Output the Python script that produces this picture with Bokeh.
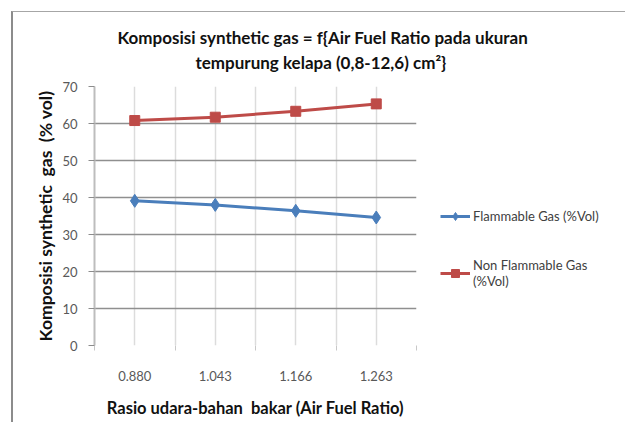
from bokeh.plotting import figure
from bokeh.models import (Range1d, FixedTicker, Legend, LegendItem, Title,
                          ColumnDataSource)
from bokeh.embed import file_html
from bokeh.resources import INLINE

categories = ["0.880", "1.043", "1.166", "1.263"]
flammable = [39.1, 38.0, 36.4, 34.6]
non_flammable = [60.8, 61.7, 63.3, 65.3]
y_ticks = [0, 10, 20, 30, 40, 50, 60, 70]

xs = list(range(1, len(categories) + 1))
src = ColumnDataSource(dict(x=xs, f=flammable, n=non_flammable))

p = figure(frame_width=322, frame_height=259, output_backend="svg", toolbar_location=None,
           x_range=Range1d(0.5, len(categories) + 0.5), y_range=Range1d(0, 70),
           min_border_left=81, min_border_right=206, min_border_top=74,
           min_border_bottom=77)
p.styles = {"margin-left": "11px", "margin-top": "11px",
            "border-left": "2px solid #8c8c8c", "border-top": "1px solid #a6a6a6",
            "border-right": "2px solid #c0c0c0"}
p.outline_line_color = None
p.background_fill_color = "white"
p.border_fill_color = "white"

FONT = "Lato"
TICK_COLOR = "#595959"
# x axis
p.xaxis.ticker = FixedTicker(ticks=xs, minor_ticks=[x - 0.5 for x in xs] + [xs[-1] + 0.5])
p.xaxis.major_label_overrides = {x: c for x, c in zip(xs, categories)}
p.xaxis.major_tick_out = 0
p.xaxis.major_tick_in = 0
p.xaxis.minor_tick_out = 5
p.xaxis.minor_tick_in = 0
p.xaxis.minor_tick_line_color = "#c8c8c8"
p.xaxis.axis_line_color = None
p.xaxis.major_label_standoff = 20
p.xaxis.major_label_text_font = FONT
p.xaxis.major_label_text_font_size = "13px"
p.xaxis.major_label_text_color = TICK_COLOR
p.xaxis.axis_label = "Rasio udara-bahan\u00a0 bakar (Air Fuel Ratio)"
p.xaxis.axis_label_text_font = FONT
p.xaxis.axis_label_text_font_style = "bold"
p.xaxis.axis_label_text_font_size = "16.5px"
p.xaxis.axis_label_text_color = "#111111"
p.xaxis.axis_label_standoff = 14

# y axis
p.yaxis.ticker = FixedTicker(ticks=y_ticks)
p.yaxis.major_tick_out = 6
p.yaxis.major_tick_in = 0
p.yaxis.minor_tick_line_color = None
p.yaxis.major_tick_line_color = "#8c8c8c"
p.yaxis.axis_line_color = "#bdbdbd"
p.yaxis.axis_line_width = 2
p.yaxis.major_label_standoff = 11
p.yaxis.major_label_text_font = FONT
p.yaxis.major_label_text_font_size = "13px"
p.yaxis.major_label_text_color = TICK_COLOR
p.yaxis.axis_label = "Komposisi synthetic\u00a0 gas\u00a0 (% vol)"
p.yaxis.axis_label_text_font = FONT
p.yaxis.axis_label_text_font_style = "bold"
p.yaxis.axis_label_text_font_size = "17.5px"
p.yaxis.axis_label_text_color = "#111111"
p.yaxis.axis_label_standoff = 3

# grids
p.xgrid.ticker = p.xaxis.ticker
p.xgrid.grid_line_color = "#dcdcdc"
p.xgrid.grid_line_width = 1.5
p.xgrid.minor_grid_line_color = "#dcdcdc"
p.xgrid.minor_grid_line_width = 1.5
p.ygrid.grid_line_color = "#8f8f8f"
p.ygrid.grid_line_width = 1.5

BLUE = "#4a7ebb"
RED = "#be4b48"
l1 = p.line("x", "f", source=src, line_color=BLUE, line_width=3)
m1 = p.scatter("x", "f", source=src, marker="diamond", size=13,
               fill_color=BLUE, line_color=BLUE)
l2 = p.line("x", "n", source=src, line_color=RED, line_width=3)
m2 = p.scatter("x", "n", source=src, marker="square", size=10,
               fill_color=RED, line_color=RED)

legend = Legend(items=[
    LegendItem(label="Flammable Gas (%Vol)", renderers=[l1, m1]),
    LegendItem(label="Non Flammable Gas\n(%Vol)", renderers=[l2, m2]),
], location=(24, 56))
legend.border_line_color = None
legend.background_fill_alpha = 0
legend.label_text_font = FONT
legend.label_text_font_size = "13px"
legend.label_text_line_height = 1.1
legend.label_text_color = "#404040"
legend.glyph_width = 30
legend.label_standoff = 3
legend.spacing = 31
legend.padding = 0
legend.margin = 0
p.add_layout(legend, "right")

spacer = Title(text=" ", text_font_size="1px", standoff=8)
t2 = Title(text="tempurung kelapa (0,8-12,6) cm\u00b2}", align="left", offset=101,
           text_font=FONT, text_font_style="bold", text_font_size="17px",
           text_color="#111111", standoff=5)
t1 = Title(text="Komposisi synthetic gas = f{Air Fuel Ratio pada ukuran", align="left",
           offset=23, text_font=FONT, text_font_style="bold", text_font_size="17px",
           text_color="#111111", standoff=0)
p.add_layout(spacer, "above")
p.add_layout(t2, "above")
p.add_layout(t1, "above")

open("out.html", "w").write(file_html(p, INLINE))
